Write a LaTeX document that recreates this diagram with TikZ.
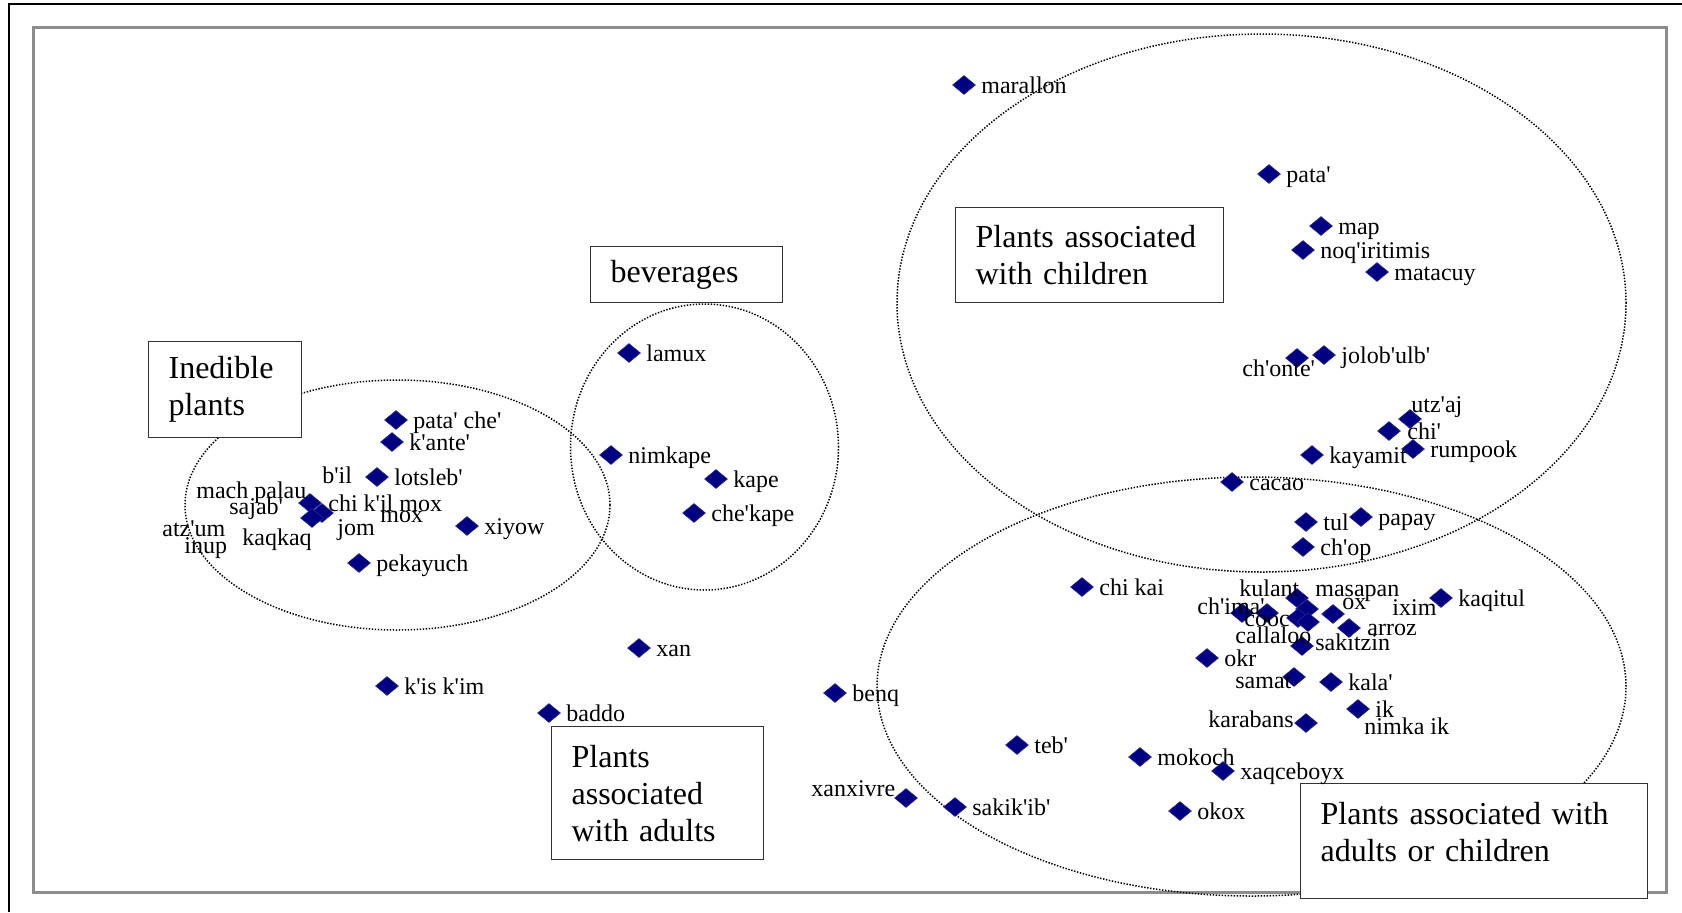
\documentclass[tikz,border=0pt]{standalone}
\usepackage{fontspec}
\setmainfont{Liberation Serif}[Ligatures=TeXOff]
\usetikzlibrary{shapes.geometric}
\definecolor{ptnavy}{RGB}{0,0,128}
\definecolor{ptedge}{RGB}{40,40,150}
\newcommand\plotpt[4]{%
  \node[ptmark] (#1) at (#2,#3) {};
  \node[ptlab] (#1-l) at ([xshift=8.5pt,yshift=-4pt]#1.center) {#4};}
\newcommand\lonept[3]{\node[ptmark] (#1) at (#2,#3) {};}
\newcommand\freelab[4]{\node[ptlab] (#1) at (#2,#3) {#4};}
\tikzset{
  ptmark/.style={diamond, fill=ptnavy, draw=ptedge, line width=0.3pt, inner sep=0pt, minimum width=11.5pt, minimum height=9.5pt},
  ptlab/.style={anchor=base west, inner sep=0pt, font=\fontsize{12}{14}\selectfont},
  grp/.style={draw=black!80, fill=white, line width=0.6pt, align=left, anchor=north west, inner xsep=10pt, inner ysep=0pt, font=\fontsize{16}{18.5}\selectfont},
  zone/.style={draw=black, line width=0.75pt, dash pattern=on 0.7pt off 0.8pt},
  frame/.style={draw=black!45, line width=1.5pt}
}
\begin{document}
\begin{tikzpicture}[x=0.5pt,y=-0.5pt]
\useasboundingbox (0,0) rectangle (1682,912);
% outer lines and frame
\draw[line width=0.8pt] (9,912) -- (9,4) -- (1682,4);
\draw[frame] (33,27) rectangle (1666,892);
% zones
\draw[zone] (397.5,505) ellipse [x radius=106.25pt, y radius=62.5pt];
\draw[zone] (704.5,447) ellipse [x radius=67pt, y radius=71.5pt];
\draw[zone] (1261.5,303) ellipse [x radius=182.25pt, y radius=134.5pt];
\draw[zone] (1251.5,686.5) ellipse [x radius=187.25pt, y radius=104.75pt];
% group boxes
\node[grp, minimum width=76.5pt, minimum height=48pt, text width=56.5pt] (inedible) at (148,341) {Inedible\\plants};
\node[grp, minimum width=96pt, minimum height=28pt, text width=76pt] (bev) at (590,246) {beverages};
\node[grp, minimum width=134pt, minimum height=47.5pt, text width=114pt] (child) at (955,207) {Plants associated\\with children};
\node[grp, minimum width=106pt, minimum height=66.5pt, text width=86pt] (adult) at (551,726) {Plants\\associated\\with adults};
\node[grp, minimum width=173.5pt, minimum height=57.5pt, text width=153.5pt] (aoc) at (1300,783) {Plants associated with\\adults or children\rule[-9pt]{0pt}{0pt}};
% points with labels on the right
\plotpt{p1}{964}{85}{marallon}
\plotpt{p2}{1269}{174}{pata'}
\plotpt{p3}{1321}{226}{map}
\plotpt{p4}{1303}{250}{noq'iritimis}
\plotpt{p5}{1377}{272}{matacuy}
\plotpt{p6}{1324}{355}{jolob'ulb'}
\plotpt{p7}{1413}{449}{rumpook}
\plotpt{p8}{1312}{455}{kayamit}
\plotpt{p9}{1232}{482}{cacao}
\plotpt{p10}{1306}{522}{tul}
\plotpt{p11}{1361}{517}{papay}
\plotpt{p12}{1303}{547}{ch'op}
\plotpt{p13}{1082}{587}{chi kai}
\plotpt{p14}{1441}{598}{kaqitul}
\plotpt{p15}{1207}{658}{okr}
\plotpt{p16}{1331}{682}{kala'}
\plotpt{p17}{1358}{709}{ik}
\plotpt{p18}{1017}{745}{teb'}
\plotpt{p19}{1140}{757}{mokoch}
\plotpt{p20}{1223}{771}{xaqceboyx}
\plotpt{p21}{1180}{811}{okox}
\plotpt{p22}{955}{807}{sakik'ib'}
\plotpt{p23}{835}{693}{benq}
\plotpt{p24}{629}{353}{lamux}
\plotpt{p25}{611}{455}{nimkape}
\plotpt{p26}{716}{479}{kape}
\plotpt{p27}{694}{513}{che'kape}
\plotpt{p28}{396}{420}{pata' che'}
\plotpt{p29}{392}{442}{k'ante'}
\plotpt{p30}{377}{477}{lotsleb'}
\plotpt{p31}{467}{526}{xiyow}
\plotpt{p32}{359}{563}{pekayuch}
\plotpt{p33}{639}{648}{xan}
\plotpt{p34}{387}{686}{k'is k'im}
\plotpt{p35}{549}{713}{baddo}
% points with labels placed apart
\lonept{q1}{1297}{358}
\freelab{q1-l}{1242}{376}{ch'onte'}
\lonept{q2}{1410}{419}
\freelab{q2-l}{1411}{412}{utz'aj}
\lonept{q3}{1389}{431}
\freelab{q3-l}{1407}{439}{chi'}
\lonept{q4}{906}{798}
\freelab{q4-l}{811}{796}{xanxivre}
\lonept{q5}{1306}{723}
\freelab{q5-l}{1208}{727}{karabans}
\lonept{q6}{1294}{677}
\freelab{q6-l}{1235}{688}{samat}
\lonept{q7}{1302}{646}
\freelab{q7-l}{1315}{650}{sakitzin}
\freelab{q8-l}{1364}{734}{nimka ik}
% right cluster
\lonept{c1}{1242}{613}
\lonept{c2}{1267}{613}
\lonept{c3}{1297}{598}
\lonept{c4}{1307}{609}
\lonept{c5}{1298}{618}
\lonept{c6}{1308}{622}
\lonept{c7}{1333}{614}
\lonept{c8}{1349}{628}
\freelab{c-kulant}{1239}{596}{kulant}
\freelab{c-masapan}{1315}{596}{masapan}
\freelab{c-chima}{1197}{614}{ch'ima'}
\freelab{c-cooc}{1244}{626}{cooc}
\freelab{c-ox}{1342}{609}{ox}
\freelab{c-ixim}{1392}{615}{ixim}
\freelab{c-arroz}{1367}{635}{arroz}
\freelab{c-callaloo}{1235}{643}{callaloo}
% left cluster
\lonept{e1}{310}{503}
\lonept{e2}{322}{513}
\lonept{e3}{312}{518}
\freelab{e-bil}{322}{483}{b'il}
\freelab{e-mach}{196}{498}{mach palau}
\freelab{e-sajab}{229}{514}{sajab'}
\freelab{e-chik}{328}{511}{chi k'il mox}
\freelab{e-mox}{380}{522}{mox}
\freelab{e-jom}{337}{535}{jom}
\freelab{e-atzum}{162}{536}{atz'um}
\freelab{e-inup}{184}{553}{inup}
\freelab{e-kaqkaq}{242}{545}{kaqkaq}
\end{tikzpicture}
\end{document}
